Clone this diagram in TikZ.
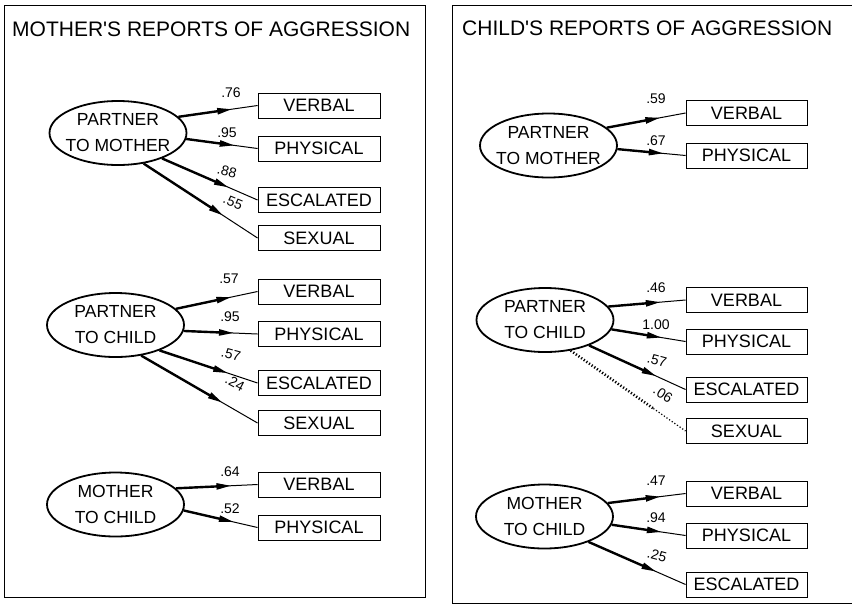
\documentclass[tikz,border=0pt]{standalone}
\usepackage{fontspec}
\setmainfont{Liberation Sans}
\usetikzlibrary{shapes.geometric,arrows.meta,calc}
\newcommand\mylink[3]{%
  \draw[thinlink] (#1) -- (#2);
  \draw[thicklink] (#1) -- ($(#1)!#3!(#2)$);
}
\begin{document}
\begin{tikzpicture}[x=1pt,y=-1pt,
  frame/.style={line width=0.9pt},
  ttl/.style={font=\fontsize{21}{25}\selectfont, inner sep=0pt, anchor=west},
  latent/.style={ellipse, draw, line width=1.8pt, minimum width=137pt, minimum height=64pt, inner sep=0pt},
  ltext/.style={font=\fontsize{17.5}{26}\selectfont, align=center, inner sep=0pt},
  obs/.style={draw, line width=0.9pt, minimum width=122pt, minimum height=25pt, inner sep=0pt, font=\fontsize{18}{20}\selectfont},
  obsr/.style={obs, minimum width=121pt},
  thinlink/.style={line width=1pt},
  thicklink/.style={line width=2.4pt, -{Triangle[length=15pt,width=6pt]}},
  dotthin/.style={line width=1.2pt, dash pattern=on 1.2pt off 2pt},
  dotthick/.style={line width=2.6pt, dash pattern=on 1.2pt off 2pt},
  coef/.style={font=\fontsize{14}{16}\selectfont, inner sep=0pt},
]
\useasboundingbox (0,0) rectangle (852,606);
% frames
\draw[frame] (4,5) rectangle (425,597);
\draw[frame] (852,5) -- (452,5) -- (452,603) -- (852,603);
% titles
\node[ttl] (t1) at (12,29.5) {MOTHER\textquotesingle S REPORTS OF AGGRESSION};
\node[ttl] (t2) at (462,28.5) {CHILD\textquotesingle S REPORTS OF AGGRESSION};

% ---------- Left group 1
\node[latent] (a) at (118,133) {};
\node[ltext] (at) at (a) {PARTNER\\TO MOTHER};
\node[obs] (av) at (319,105.5) {VERBAL};
\node[obs] (ap) at (319,148.5) {PHYSICAL};
\node[obs] (ae) at (319,200) {ESCALATED};
\node[obs] (as) at (319,238) {SEXUAL};
\mylink{a.15}{av.west}{0.68}
\mylink{a.-5}{ap.west}{0.68}
\mylink{a.-30}{ae.west}{0.70}
\mylink{a.-50}{as.west}{0.70}
\node[coef] (ca1) at (231,93) {.76};
\node[coef] (ca2) at (227,133) {.95};
\node[coef,rotate=-15] (ca3) at (227,171) {.88};
\node[coef,rotate=-22] (ca4) at (233,202) {.55};

% ---------- Left group 2
\node[latent] (b) at (115.5,325) {};
\node[ltext] (bt) at (b) {PARTNER\\TO CHILD};
\node[obs] (bv) at (319,291.5) {VERBAL};
\node[obs] (bp) at (319,334) {PHYSICAL};
\node[obs] (be) at (319,383) {ESCALATED};
\node[obs] (bs) at (319,423) {SEXUAL};
\mylink{b.15}{bv.west}{0.68}
\mylink{b.-5}{bp.west}{0.68}
\mylink{b.-30}{be.west}{0.70}
\mylink{b.-50}{bs.west}{0.70}
\node[coef] (cb1) at (229,279) {.57};
\node[coef] (cb2) at (230,317) {.95};
\node[coef,rotate=-15] (cb3) at (231,354) {.57};
\node[coef,rotate=-28] (cb4) at (235,383) {.24};

% ---------- Left group 3
\node[latent] (c) at (115.5,504.5) {};
\node[ltext] (ct) at (c) {MOTHER\\TO CHILD};
\node[obs] (cv) at (319,484.5) {VERBAL};
\node[obs] (cp) at (319,527.5) {PHYSICAL};
\mylink{c.15}{cv.west}{0.68}
\mylink{c.-5}{cp.west}{0.68}
\node[coef] (cc1) at (230,472) {.64};
\node[coef] (cc2) at (230,509) {.52};

% ---------- Right group 1
\node[latent] (d) at (548.5,145.5) {};
\node[ltext] (dt) at (d) {PARTNER\\TO MOTHER};
\node[obsr] (dv) at (746.5,113) {VERBAL};
\node[obsr] (dp) at (746.5,155.5) {PHYSICAL};
\mylink{d.17}{dv.west}{0.68}
\mylink{d.-3}{dp.west}{0.68}
\node[coef] (cd1) at (656,99) {.59};
\node[coef] (cd2) at (656,141) {.67};

% ---------- Right group 2
\node[latent] (e) at (545,320) {};
\node[ltext] (et) at (e) {PARTNER\\TO CHILD};
\node[obsr] (ev) at (746.5,300) {VERBAL};
\node[obsr] (ep) at (746.5,341.5) {PHYSICAL};
\node[obsr] (ee) at (746.5,389.5) {ESCALATED};
\node[obsr] (es) at (746.5,431) {SEXUAL};
\mylink{e.12}{ev.west}{0.68}
\mylink{e.-8}{ep.west}{0.68}
\mylink{e.-30}{ee.west}{0.70}
\draw[dotthick] (e.-50) -- ($(e.-50)!0.72!(es.west)$);
\draw[dotthin] ($(e.-50)!0.72!(es.west)$) -- (es.west);
\node[coef] (ce1) at (656,288) {.46};
\node[coef] (ce2) at (656,325) {1.00};
\node[coef,rotate=-15] (ce3) at (657,360) {.57};
\node[coef,rotate=-32] (ce4) at (663,394) {.06};

% ---------- Right group 3
\node[latent] (f) at (544.5,516.5) {};
\node[ltext] (ft) at (f) {MOTHER\\TO CHILD};
\node[obsr] (fv) at (746.5,493.5) {VERBAL};
\node[obsr] (fp) at (746.5,535.5) {PHYSICAL};
\node[obsr] (fe) at (746.5,584.5) {ESCALATED};
\mylink{f.12}{fv.west}{0.68}
\mylink{f.-7}{fp.west}{0.68}
\mylink{f.-30}{fe.west}{0.70}
\node[coef] (cf1) at (656,481) {.47};
\node[coef] (cf2) at (656,518) {.94};
\node[coef,rotate=-15] (cf3) at (657,555) {.25};
\end{tikzpicture}
\end{document}
